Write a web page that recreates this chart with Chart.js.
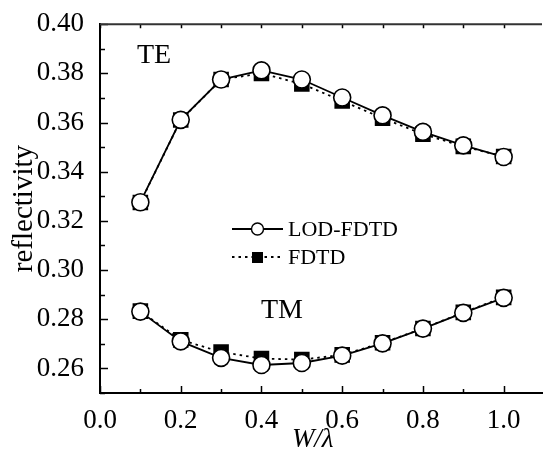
<!DOCTYPE html>
<html lang="en">
<head>
    <meta charset="UTF-8">
    <title>Reflectivity vs W/lambda</title>
    <style>
        html, body {
            margin: 0;
            padding: 0;
            background: #fff;
            overflow: hidden;
        }
        #refChart {
            display: block;
        }
    </style>
    <script src="https://cdn.jsdelivr.net/npm/chart.js"></script>
</head>
<body>
    <canvas id="refChart" width="553" height="452"></canvas>

    <script>
        // values
        const widths = [0.1, 0.2, 0.3, 0.4, 0.5, 0.6, 0.7, 0.8, 0.9, 1.0];
        const teLod  = [0.3276, 0.3611, 0.3775, 0.3812, 0.3775, 0.3702, 0.3629, 0.3562, 0.3507, 0.3460];
        const teFdtd = [0.3275, 0.3610, 0.3775, 0.3800, 0.3757, 0.3688, 0.3618, 0.3553, 0.3503, 0.3462];
        const tmLod  = [0.2831, 0.2710, 0.2643, 0.2614, 0.2622, 0.2652, 0.2702, 0.2762, 0.2826, 0.2887];
        const tmFdtd = [0.2833, 0.2716, 0.2667, 0.2640, 0.2636, 0.2655, 0.2704, 0.2762, 0.2828, 0.2889];

        const xTickLabels = [0.0, 0.2, 0.4, 0.6, 0.8, 1.0];
        const yTickLabels = [0.26, 0.28, 0.30, 0.32, 0.34, 0.36, 0.38, 0.40];

        const serif = "'Liberation Serif', 'Times New Roman', Times, serif";

        function points(ys) {
            return widths.map((x, i) => ({ x: x, y: ys[i] }));
        }

        const lodStyle = {
            borderColor: '#000',
            borderWidth: 1.8,
            pointStyle: 'circle',
            pointRadius: 8.5,
            pointBorderWidth: 1.6,
            pointBackgroundColor: '#fff',
            pointBorderColor: '#000',
            tension: 0
        };
        const fdtdStyle = {
            borderColor: '#000',
            borderWidth: 1.8,
            borderDash: [2.5, 4],
            pointStyle: 'rect',
            pointRadius: 11,
            pointBorderWidth: 0,
            pointBackgroundColor: '#000',
            tension: 0
        };

        // inward ticks, top frame line, labels and legend
        const decorations = {
            id: 'decorations',
            afterDraw(chart) {
                const ctx = chart.ctx;
                const xs = chart.scales.x;
                const ys = chart.scales.y;
                const area = chart.chartArea;
                ctx.save();
                ctx.strokeStyle = '#000';
                ctx.lineWidth = 1.5;

                // left axis ticks
                for (let k = 25; k <= 40; k++) {
                    const py = Math.round(ys.getPixelForValue(k / 100)) + 0.5;
                    const len = (k % 2 === 0) ? 8 : 5;
                    ctx.beginPath();
                    ctx.moveTo(area.left, py);
                    ctx.lineTo(area.left + len, py);
                    ctx.stroke();
                }
                // bottom and top ticks
                for (let k = 0; k <= 10; k++) {
                    const px = Math.round(xs.getPixelForValue(k / 10)) + 0.5;
                    const len = (k % 2 === 0) ? 7 : 4;
                    ctx.beginPath();
                    ctx.moveTo(px, area.bottom);
                    ctx.lineTo(px, area.bottom - len);
                    ctx.moveTo(px, area.top);
                    ctx.lineTo(px, area.top + 4);
                    ctx.stroke();
                }
                // top frame
                ctx.strokeStyle = '#333';
                ctx.lineWidth = 2;
                ctx.beginPath();
                ctx.moveTo(area.left, area.top);
                ctx.lineTo(area.right, area.top);
                ctx.stroke();

                // annotations
                ctx.fillStyle = '#000';
                ctx.textBaseline = 'middle';
                ctx.textAlign = 'left';
                ctx.font = '28px ' + serif;
                ctx.fillText('TE', 137, 56);
                ctx.fillText('TM', 261, 311);

                // x axis title
                ctx.textAlign = 'center';
                ctx.font = 'italic 27px ' + serif;
                ctx.fillText('W/\u03bb', xs.getPixelForValue(0.527), 440);

                // legend
                ctx.textAlign = 'left';
                ctx.font = '22px ' + serif;
                ctx.lineWidth = 1.8;
                ctx.strokeStyle = '#000';
                ctx.beginPath();
                ctx.moveTo(232, 229);
                ctx.lineTo(283, 229);
                ctx.stroke();
                ctx.beginPath();
                ctx.arc(257.5, 229, 6, 0, Math.PI * 2);
                ctx.fillStyle = '#fff';
                ctx.fill();
                ctx.lineWidth = 1.4;
                ctx.stroke();
                ctx.fillStyle = '#000';
                ctx.fillText('LOD-FDTD', 288, 230);

                ctx.lineWidth = 1.8;
                ctx.setLineDash([2.5, 4]);
                ctx.beginPath();
                ctx.moveTo(232, 257);
                ctx.lineTo(283, 257);
                ctx.stroke();
                ctx.setLineDash([]);
                ctx.fillRect(252, 252, 11, 11);
                ctx.fillText('FDTD', 288, 258);

                ctx.restore();
            }
        };

        function renderChart() {
            new Chart(document.getElementById('refChart'), {
                type: 'line',
                data: {
                    datasets: [
                        Object.assign({ label: 'LOD-FDTD TE', data: points(teLod) }, lodStyle),
                        Object.assign({ label: 'LOD-FDTD TM', data: points(tmLod) }, lodStyle),
                        Object.assign({ label: 'FDTD TE', data: points(teFdtd) }, fdtdStyle),
                        Object.assign({ label: 'FDTD TM', data: points(tmFdtd) }, fdtdStyle)
                    ]
                },
                options: {
                    responsive: false,
                    animation: false,
                    devicePixelRatio: 1,
                    layout: { padding: { top: 20, right: 0, left: 0, bottom: 0 } },
                    plugins: {
                        legend: { display: false },
                        tooltip: { enabled: false }
                    },
                    scales: {
                        x: {
                            type: 'linear',
                            min: 0,
                            max: 1.095,
                            afterBuildTicks: axis => {
                                axis.ticks = xTickLabels.map(v => ({ value: v }));
                            },
                            afterFit: axis => { axis.height = 59; },
                            grid: { display: false },
                            border: { display: true, color: '#000', width: 2 },
                            ticks: {
                                color: '#000',
                                padding: 4,
                                maxRotation: 0,
                                font: { family: serif, size: 27 },
                                callback: v => v.toFixed(1)
                            }
                        },
                        y: {
                            type: 'linear',
                            min: 0.25,
                            max: 0.40,
                            afterBuildTicks: axis => {
                                axis.ticks = yTickLabels.map(v => ({ value: v }));
                            },
                            afterFit: axis => { axis.width = 100; },
                            grid: { display: false },
                            border: { display: true, color: '#000', width: 2 },
                            title: {
                                display: true,
                                text: 'reflectivity',
                                color: '#000',
                                padding: { top: 7, bottom: 0 },
                                font: { family: serif, size: 29 }
                            },
                            ticks: {
                                color: '#000',
                                padding: 8,
                                font: { family: serif, size: 27 },
                                callback: v => v.toFixed(2)
                            }
                        }
                    }
                },
                plugins: [decorations]
            });
        }

        // make sure the serif face is ready before the canvas draws text
        Promise.all([
            document.fonts.load("26px 'Liberation Serif'"),
            document.fonts.load("italic 26px 'Liberation Serif'")
        ]).then(renderChart, renderChart);
    </script>
</body>
</html>
